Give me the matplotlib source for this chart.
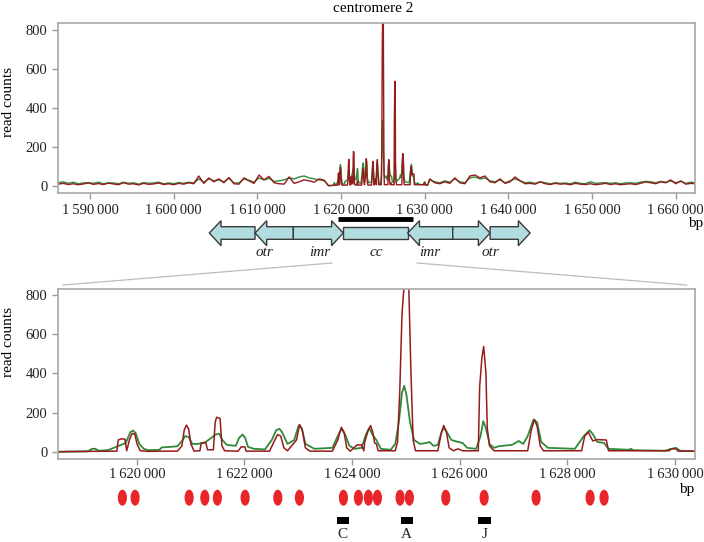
import numpy as np
import matplotlib
matplotlib.use("Agg")
import matplotlib.pyplot as plt
from matplotlib.patches import Polygon, Rectangle, Ellipse, ConnectionPatch
from matplotlib.ticker import FuncFormatter

plt.rcParams['font.family'] = ['Liberation Serif', 'DejaVu Serif']

# ---- data ----
# zoomed region (bottom panel), positions in bp
red_pos = [1618503, 1619128, 1619629, 1619654, 1619712, 1619779, 1619812, 1619862, 1619912, 1619962,
           1620004, 1620063, 1620213, 1620463, 1620755, 1620838, 1620880, 1620922, 1620963, 1621005,
           1621064, 1621172, 1621197, 1621280, 1621314, 1621422, 1621456, 1621481, 1621547, 1621581,
           1621631, 1621881, 1621940, 1622006, 1622031, 1622465, 1622565, 1622615, 1622674, 1622732,
           1622799, 1622966, 1623024, 1623074, 1623132, 1623216, 1623633, 1623733, 1623800, 1623850,
           1623900, 1623967, 1624092, 1624175, 1624217, 1624234, 1624300, 1624342, 1624384, 1624417,
           1624450, 1624484, 1624801, 1624843, 1624884, 1624926, 1624968, 1625051, 1625093, 1625134,
           1625176, 1625593, 1625652, 1625702, 1625752, 1625802, 1625885, 1625969, 1626052, 1626344,
           1626369, 1626411, 1626444, 1626486, 1626511, 1626553, 1626636, 1627262, 1627328, 1627387,
           1627437, 1627495, 1627554, 1628263, 1628321, 1628388, 1628471, 1628555, 1628722, 1628763,
           1629139, 1629890, 1629931, 1630015, 1630056, 1630348]
red_val = [0, 2, 3, 60, 66, 64, 5, 60, 93, 90,
           40, 5, 2, 3, 3, 30, 110, 136, 115, 40,
           3, 5, 45, 48, 10, 10, 150, 176, 170, 30,
           5, 3, 25, 25, 3, 3, 60, 88, 80, 20,
           5, 60, 139, 110, 20, 3, 3, 60, 125, 100,
           20, 3, 35, 35, 5, 50, 110, 134, 100, 45,
           40, 5, 5, 50, 300, 700, 860, 860, 400, 60,
           5, 5, 90, 134, 100, 20, 5, 15, 5, 5,
           330, 480, 537, 400, 120, 30, 5, 5, 110, 164,
           130, 30, 5, 5, 80, 100, 55, 62, 60, 5,
           5, 5, 15, 15, 3, 3]

green_pos = [1618503, 1619087, 1619170, 1619228, 1619295, 1619462, 1619645, 1619796, 1619879, 1619929,
             1619979, 1620046, 1620129, 1620213, 1620421, 1620463, 1620630, 1620755, 1620838, 1620897,
             1620963, 1621030, 1621130, 1621255, 1621381, 1621464, 1621531, 1621589, 1621673, 1621839,
             1621898, 1621965, 1622015, 1622065, 1622173, 1622382, 1622507, 1622590, 1622649, 1622699,
             1622799, 1622924, 1623007, 1623066, 1623132, 1623299, 1623633, 1623733, 1623800, 1623867,
             1623950, 1624050, 1624175, 1624259, 1624317, 1624384, 1624450, 1624534, 1624717, 1624801,
             1624868, 1624926, 1624968, 1625009, 1625076, 1625151, 1625260, 1625385, 1625435, 1625510,
             1625593, 1625660, 1625702, 1625760, 1625844, 1625969, 1626052, 1626136, 1626302, 1626386,
             1626436, 1626486, 1626553, 1626636, 1626720, 1626970, 1627095, 1627178, 1627262, 1627370,
             1627437, 1627512, 1627637, 1628138, 1628304, 1628413, 1628471, 1628555, 1628680, 1628763,
             1629139, 1629180, 1629222, 1629806, 1629931, 1630015, 1630098, 1630348]
green_val = [0, 2, 15, 15, 5, 8, 28, 45, 100, 108,
             95, 40, 15, 8, 10, 22, 25, 28, 55, 80,
             75, 40, 40, 45, 70, 88, 92, 60, 35, 30,
             70, 88, 70, 25, 15, 12, 60, 110, 117, 100,
             40, 60, 134, 120, 40, 15, 20, 80, 117, 90,
             30, 15, 20, 90, 120, 85, 60, 15, 10, 40,
             150, 300, 337, 290, 150, 60, 40, 45, 50, 30,
             35, 100, 122, 100, 60, 50, 45, 20, 15, 80,
             156, 120, 40, 20, 28, 35, 55, 40, 80, 165,
             150, 50, 20, 15, 80, 110, 90, 50, 45, 15,
             10, 15, 8, 5, 15, 20, 5, 3]

# flanking regions of the whole centromere (top panel), sampled every 600 bp
left_start, right_start, outer_step = 1586200, 1630600, 600
red_left = [8, 12, 6, 10, 5, 9, 14, 7, 11, 6, 13, 9, 5, 15, 8, 10, 4, 12, 7, 9, 14, 6, 10, 5, 12, 8, 15,
            10, 50, 12, 40, 20, 35, 15, 42, 10, 8, 40, 25, 12, 55, 30, 48, 15, 10, 8, 45, 12, 20, 30,
            25, 18, 35, 28]
green_left = [15, 20, 12, 18, 10, 14, 16, 12, 18, 10, 15, 14, 10, 18, 12, 15, 8, 16, 12, 14, 18, 10, 14,
              10, 16, 12, 18, 14, 35, 18, 35, 25, 30, 20, 38, 15, 14, 35, 28, 18, 40, 30, 38, 22, 25,
              30, 40, 35, 45, 50, 40, 35, 30, 25]
red_right = [35, 15, 10, 20, 12, 40, 15, 10, 50, 55, 40, 50, 20, 15, 35, 12, 20, 45, 25, 10, 12, 8, 20,
             10, 6, 12, 8, 10, 5, 12, 8, 6, 10, 5, 8, 12, 6, 10, 5, 8, 10, 6, 12, 20, 15, 10, 20, 15,
             30, 10, 25, 8, 12, 10]
green_right = [30, 20, 15, 25, 18, 35, 20, 15, 40, 45, 35, 40, 25, 20, 30, 15, 25, 35, 25, 15, 18, 12,
               20, 15, 10, 15, 12, 14, 10, 18, 12, 10, 20, 12, 14, 16, 12, 15, 10, 14, 15, 12, 18, 22,
               20, 15, 22, 18, 25, 15, 22, 12, 18, 15]

# centromere elements
gene_start = [1604260, 1609720, 1614300, 1620270, 1627970, 1633350, 1637810]
gene_end = [1609720, 1614300, 1620270, 1627970, 1633350, 1637810, 1642590]
gene_kind = ['left', 'left', 'right', 'box', 'left', 'right', 'right']
region_names = ['otr', 'imr', 'cc', 'imr', 'otr']
region_pos = [1610900, 1617500, 1624260, 1630550, 1637800]
bar_range = [1619600, 1628640]
zoom_link = [1618900, 1629100]

# sites below the zoomed panel
site_pos = [1619732, 1619968, 1620972, 1621263, 1621497, 1622012, 1622619, 1623021, 1623838, 1624117,
            1624302, 1624470, 1624891, 1625064, 1625740, 1626452, 1627418, 1628421, 1628681]
box_labels = ['C', 'A', 'J']
box_pos = [1623827, 1625016, 1626461]

# ---- figure ----
W, H = 704, 542
fig = plt.figure(figsize=(W / 100, H / 100), dpi=100)


def px_axes(left, top, right, bottom):
    return fig.add_axes([left / W, 1 - bottom / H, (right - left) / W, (bottom - top) / H])


RED = '#971a1c'
GREEN = '#2f8a3a'
SPINE = '#a8a8a8'
fmt = FuncFormatter(lambda v, p: f"{int(v):,}".replace(",", "\u2009"))


def style(ax):
    for s in ax.spines.values():
        s.set_color(SPINE)
        s.set_linewidth(1.2)
    ax.tick_params(color='#999999', labelcolor='#222222', labelsize=10.5, length=4, width=1)
    ax.set_yticks([0, 200, 400, 600, 800])
    ax.xaxis.set_major_formatter(fmt)


# top panel
ax1 = px_axes(57.7, 22.7, 695, 192.7)
top_x = np.concatenate([left_start + outer_step * np.arange(len(red_left)), red_pos,
                        right_start + outer_step * np.arange(len(red_right))])
top_r = np.concatenate([red_left, red_val, red_right])
top_gx = np.concatenate([left_start + outer_step * np.arange(len(green_left)), green_pos,
                         right_start + outer_step * np.arange(len(green_right))])
top_g = np.concatenate([green_left, green_val, green_right])
ax1.plot(top_gx, top_g, color=GREEN, lw=1.0)
ax1.plot(top_x, top_r, color=RED, lw=1.0)
ax1.set_xlim(1586140, 1662300)
ax1.set_ylim(-36, 838)
ax1.set_xticks(np.arange(1590000, 1660001, 10000))
style(ax1)
ax1.tick_params(axis='x', pad=4)

# bottom panel
ax2 = px_axes(57.7, 289.3, 695, 459)
ax2.plot(green_pos, green_val, color=GREEN, lw=1.3)
ax2.plot(red_pos, red_val, color=RED, lw=1.1)
ax2.set_xlim(1618530, 1630370)
ax2.set_ylim(-37, 829)
ax2.set_xticks(np.arange(1620000, 1630001, 2000))
style(ax2)
ax2.tick_params(axis='x', pad=2.5)

# centromere diagram
ax_g = px_axes(57.7, 200, 695, 270)
ax_g.set_xlim(ax1.get_xlim())
ax_g.set_ylim(270, 200)
ax_g.set_axis_off()
y0, y1, hy0, hy1, head = 226.7, 239.3, 220.7, 245.7, 1400
ym = (y0 + y1) / 2
for s, e, k in zip(gene_start, gene_end, gene_kind):
    if k == 'right':
        pts = [(s, y0), (e - head, y0), (e - head, hy0), (e, ym), (e - head, hy1), (e - head, y1), (s, y1)]
    elif k == 'left':
        pts = [(e, y0), (s + head, y0), (s + head, hy0), (s, ym), (s + head, hy1), (s + head, y1), (e, y1)]
    else:
        pts = [(s, y0), (e, y0), (e, y1), (s, y1)]
    ax_g.add_patch(Polygon(pts, closed=True, facecolor='#b2dde0', edgecolor='#3a3a3a', lw=1))
for n, x in zip(region_names, region_pos):
    ax_g.text(x, 253, n, ha='center', va='center', fontsize=11, style='italic', color='#222222')
ax_g.plot(bar_range, [219, 219], color='black', lw=3.5, solid_capstyle='butt')

# dotted links to the zoomed panel
for xa, xb in zip(zoom_link, [0.008, 0.987]):
    con = ConnectionPatch(xyA=(xa, 263), coordsA=ax_g.transData,
                          xyB=(xb, 1.025), coordsB=ax2.transAxes,
                          color='#b5b5b5', lw=1, linestyle=(0, (1, 1)))
    fig.add_artist(con)

# sites and probes
ax_m = px_axes(57.7, 480, 695, 542)
ax_m.set_xlim(ax2.get_xlim())
ax_m.set_ylim(542, 480)
ax_m.set_axis_off()
for x in site_pos:
    ax_m.add_patch(Ellipse((x, 497.7), width=170, height=16, facecolor='#e8262a', edgecolor='none'))
for lab, x in zip(box_labels, box_pos):
    ax_m.add_patch(Rectangle((x - 115, 516.5), 230, 7, facecolor='black', edgecolor='none'))
    ax_m.text(x, 535, lab, ha='center', va='center', fontsize=11, color='#222222')

# text
fig.text(373 / W, 1 - 9 / H, 'centromere 2', ha='center', va='center', fontsize=11)
fig.text(9 / W, 1 - 102 / H, 'read counts', rotation=90, ha='center', va='center', fontsize=11)
fig.text(9 / W, 1 - 342 / H, 'read counts', rotation=90, ha='center', va='center', fontsize=11)
fig.text(703 / W, 1 - 223 / H, 'bp', ha='right', va='center', fontsize=11)
fig.text(694 / W, 1 - 490 / H, 'bp', ha='right', va='center', fontsize=11)

fig.savefig('out.png', dpi=100)
